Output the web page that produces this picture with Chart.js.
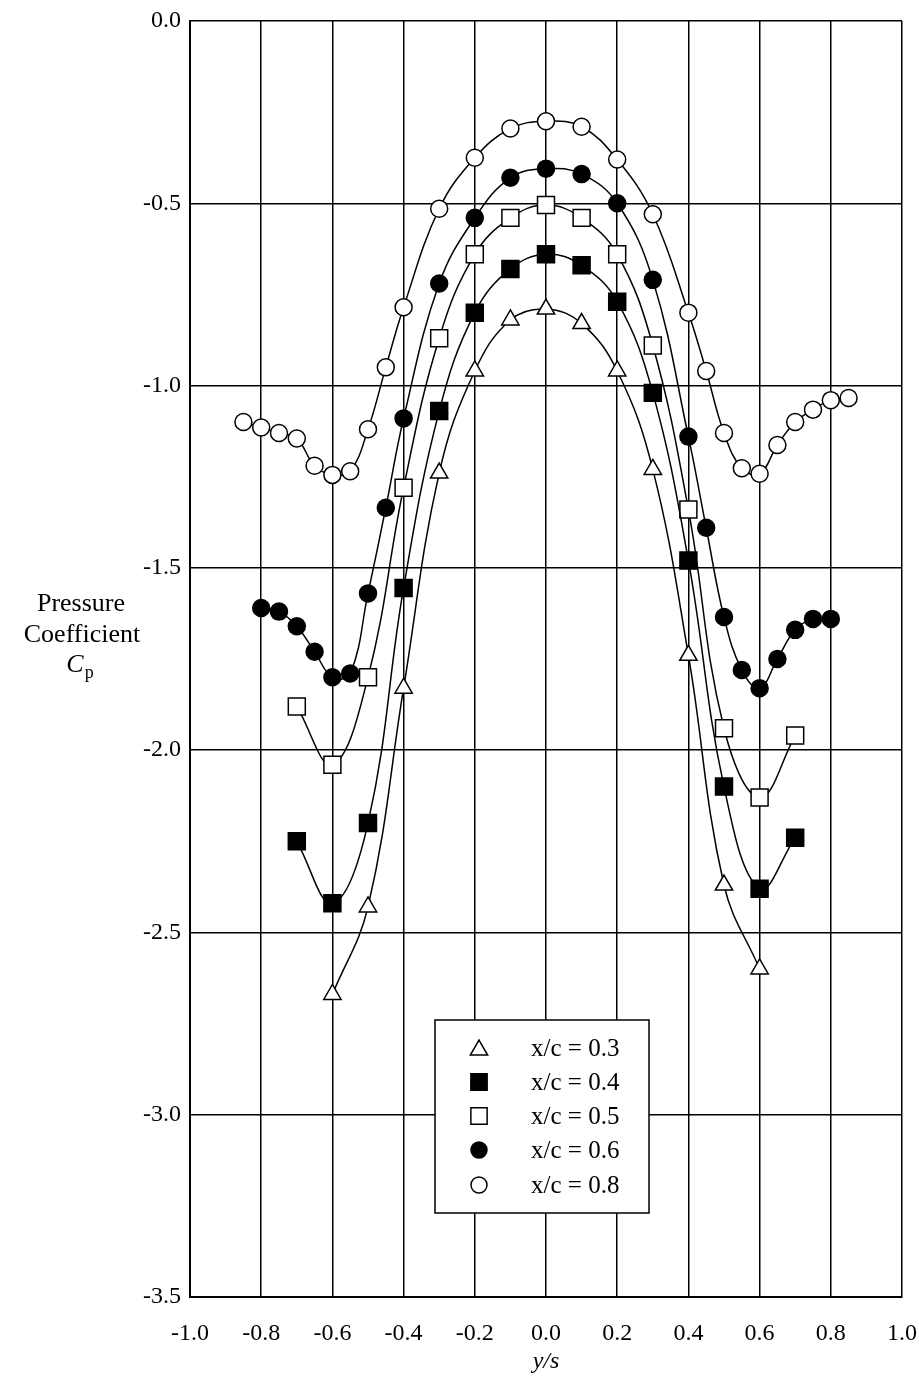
<!DOCTYPE html>
<html>
<head>
<meta charset="utf-8">
<script src="https://cdn.jsdelivr.net/npm/chart.js@4.4.1/dist/chart.umd.min.js"></script>
<style>
  html, body { margin: 0; padding: 0; background: #fff; }
  #wrap { width: 919px; height: 1380px; }
</style>
</head>
<body>
<div id="wrap"><canvas id="c" width="919" height="1380"></canvas></div>
<script>
// ---- data (y/s positions and pressure coefficients) ----
const xTicks = [-1.0, -0.8, -0.6, -0.4, -0.2, 0.0, 0.2, 0.4, 0.6, 0.8, 1.0];
const yTicks = [0.0, -0.5, -1.0, -1.5, -2.0, -2.5, -3.0, -3.5];

const seriesLabels = ['x/c = 0.3', 'x/c = 0.4', 'x/c = 0.5', 'x/c = 0.6', 'x/c = 0.8'];

const ys03 = [-0.6, -0.5, -0.4, -0.3, -0.2, -0.1, 0.0, 0.1, 0.2, 0.3, 0.4, 0.5, 0.6];
const cp03 = [-2.67, -2.43, -1.83, -1.24, -0.96, -0.82, -0.79, -0.83, -0.96, -1.23, -1.74, -2.37, -2.60];

const ys04 = [-0.7, -0.6, -0.5, -0.4, -0.3, -0.2, -0.1, 0.0, 0.1, 0.2, 0.3, 0.4, 0.5, 0.6, 0.7];
const cp04 = [-2.25, -2.42, -2.20, -1.555, -1.07, -0.80, -0.68, -0.64, -0.67, -0.77, -1.02, -1.48, -2.10, -2.38, -2.24];

const ys05 = [-0.7, -0.6, -0.5, -0.4, -0.3, -0.2, -0.1, 0.0, 0.1, 0.2, 0.3, 0.4, 0.5, 0.6, 0.7];
const cp05 = [-1.88, -2.04, -1.80, -1.28, -0.87, -0.64, -0.54, -0.505, -0.54, -0.64, -0.89, -1.34, -1.94, -2.13, -1.96];

const ys06 = [-0.8, -0.75, -0.7, -0.65, -0.6, -0.55, -0.5, -0.45, -0.4, -0.3, -0.2, -0.1, 0.0, 0.1, 0.2, 0.3, 0.4, 0.45, 0.5, 0.55, 0.6, 0.65, 0.7, 0.75, 0.8];
const cp06 = [-1.61, -1.62, -1.66, -1.73, -1.80, -1.79, -1.57, -1.335, -1.09, -0.72, -0.54, -0.43, -0.405, -0.42, -0.50, -0.71, -1.14, -1.39, -1.635, -1.78, -1.83, -1.75, -1.67, -1.64, -1.64];

const ys08 = [-0.85, -0.8, -0.75, -0.7, -0.65, -0.6, -0.55, -0.5, -0.45, -0.4, -0.3, -0.2, -0.1, 0.0, 0.1, 0.2, 0.3, 0.4, 0.45, 0.5, 0.55, 0.6, 0.65, 0.7, 0.75, 0.8, 0.85];
const cp08 = [-1.10, -1.115, -1.13, -1.145, -1.22, -1.245, -1.235, -1.12, -0.95, -0.785, -0.515, -0.375, -0.295, -0.275, -0.29, -0.38, -0.53, -0.80, -0.96, -1.13, -1.227, -1.242, -1.163, -1.10, -1.066, -1.04, -1.034];

// ---- styling ----
const FONT = '"Liberation Serif", "Times New Roman", serif';
const styles = [
  { pointStyle: 'triangle', radius: 10, fill: '#fff' },
  { pointStyle: 'rect', radius: 12, fill: '#000' },
  { pointStyle: 'rect', radius: 12, fill: '#fff' },
  { pointStyle: 'circle', radius: 8.5, fill: '#000' },
  { pointStyle: 'circle', radius: 8.5, fill: '#fff' }
];
const xs = [ys03, ys04, ys05, ys06, ys08];
const cps = [cp03, cp04, cp05, cp06, cp08];

function pts(x, y) { return x.map((v, i) => ({ x: v, y: y[i] })); }

const datasets = xs.map((x, i) => ({
  label: seriesLabels[i],
  data: pts(x, cps[i]),
  showLine: true,
  tension: 0.4,
  borderColor: '#000',
  borderWidth: 1.5,
  pointStyle: styles[i].pointStyle,
  pointRadius: styles[i].radius,
  pointBackgroundColor: styles[i].fill,
  pointBorderColor: '#000',
  pointBorderWidth: 1.5,
  fill: false
}));

function fmt(v) { return Math.abs(v) < 1e-9 ? '0.0' : Number(v).toFixed(1); }

const decor = {
  id: 'decor',
  afterDraw(chart) {
    const ctx = chart.ctx;
    const area = chart.chartArea;
    ctx.save();
    // y-axis title (horizontal, three lines)
    ctx.fillStyle = '#000';
    ctx.textAlign = 'center';
    ctx.textBaseline = 'alphabetic';
    ctx.font = '26px ' + FONT;
    ctx.fillText('Pressure', 81, 611);
    ctx.fillText('Coefficient', 82, 642);
    ctx.font = 'italic 26px ' + FONT;
    const cw = ctx.measureText('C').width;
    ctx.textAlign = 'left';
    ctx.fillText('C', 81 - cw / 2 - 6, 672);
    ctx.font = '18px ' + FONT;
    ctx.fillText('p', 81 + cw / 2 - 5, 678);
    // x-axis title
    ctx.font = 'italic 24px ' + FONT;
    ctx.textAlign = 'center';
    ctx.textBaseline = 'middle';
    ctx.fillText('y/s', (area.left + area.right) / 2, 1362);

    // legend box
    const bx = 435, by = 1020, bw = 214, bh = 193;
    ctx.fillStyle = '#fff';
    ctx.fillRect(bx, by, bw, bh);
    ctx.strokeStyle = '#000';
    ctx.lineWidth = 1.5;
    ctx.strokeRect(bx, by, bw, bh);
    const rows = [1048, 1082, 1116, 1150, 1185];
    chart.data.datasets.forEach((ds, i) => {
      const x = 479, y = rows[i];
      const r = ds.pointStyle === 'circle' ? 8 : (ds.pointStyle === 'rect' ? 11.5 : 10);
      ctx.fillStyle = ds.pointBackgroundColor;
      ctx.strokeStyle = '#000';
      ctx.lineWidth = 1.5;
      ctx.beginPath();
      if (ds.pointStyle === 'circle') {
        ctx.arc(x, y, r, 0, Math.PI * 2);
      } else if (ds.pointStyle === 'rect') {
        const s = r / Math.SQRT2;
        ctx.rect(x - s, y - s, 2 * s, 2 * s);
      } else {
        const yc = y + 2;
        ctx.moveTo(x, yc - r);
        ctx.lineTo(x + r * Math.sin(Math.PI / 3), yc + r / 2);
        ctx.lineTo(x - r * Math.sin(Math.PI / 3), yc + r / 2);
        ctx.closePath();
      }
      ctx.fill();
      ctx.stroke();
      ctx.fillStyle = '#000';
      ctx.font = '25px ' + FONT;
      ctx.textAlign = 'left';
      ctx.textBaseline = 'middle';
      ctx.fillText(ds.label, 531, y + 1);
    });
    ctx.restore();
  }
};

new Chart(document.getElementById('c'), {
  type: 'scatter',
  data: { datasets },
  options: {
    responsive: false,
    animation: false,
    devicePixelRatio: 1,
    layout: { padding: { top: 21, right: 17, left: 0, bottom: 0 } },
    plugins: { legend: { display: false }, tooltip: { enabled: false } },
    scales: {
      x: {
        type: 'linear',
        min: -1, max: 1,
        afterFit(s) { s.height = 83; s.paddingLeft = 0; s.paddingRight = 0; },
        afterBuildTicks(s) { s.ticks = xTicks.map(v => ({ value: v })); },
        ticks: { color: '#000', font: { family: FONT, size: 24 }, padding: 22, callback: v => fmt(v), maxRotation: 0 },
        grid: { color: '#000', lineWidth: 1.5, drawTicks: false },
        border: { display: true, color: '#000', width: 2 }
      },
      y: {
        type: 'linear',
        min: -3.5, max: 0,
        afterFit(s) { s.width = 190; s.paddingTop = 0; s.paddingBottom = 0; },
        afterBuildTicks(s) { s.ticks = yTicks.map(v => ({ value: v })); },
        ticks: { color: '#000', font: { family: FONT, size: 24 }, padding: 9, callback: v => fmt(v) },
        grid: { color: '#000', lineWidth: 1.5, drawTicks: false },
        border: { display: true, color: '#000', width: 2 }
      }
    }
  },
  plugins: [decor]
});
</script>
</body>
</html>
